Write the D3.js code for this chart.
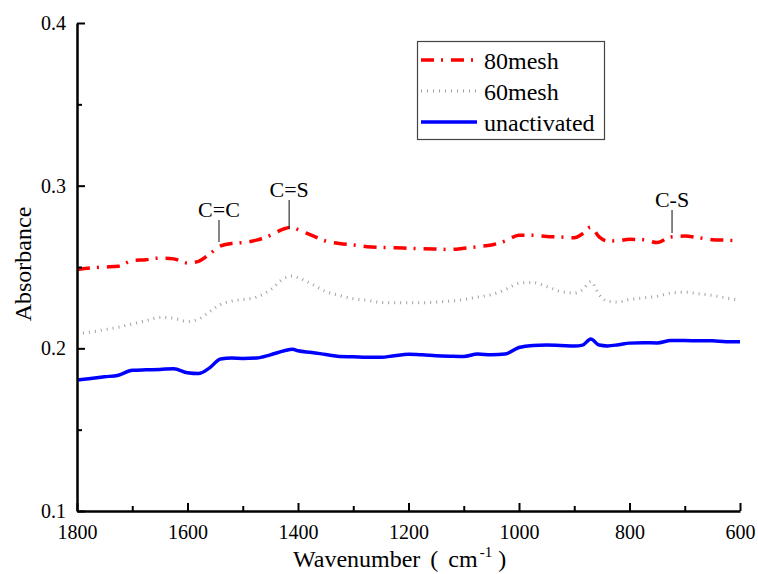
<!DOCTYPE html>
<html>
<head>
<meta charset="utf-8">
<script src="https://cdn.jsdelivr.net/npm/d3@7"></script>
<style>
  svg text, svg tspan { font-family: "Liberation Serif" !important; }
</style>
</head>
<body style="margin:0">
<svg id="chart" width="758" height="574" font-family="Liberation Serif"></svg>
<script>
// ---- data ----
const wavenumbers = [1800,1775,1750,1725,1700,1675,1650,1625,1600,1580,1560,1540,1520,1500,1475,1450,1425,1410,1400,1375,1350,1325,1300,1275,1250,1225,1200,1175,1150,1125,1100,1075,1050,1025,1000,975,950,925,900,885,870,855,840,820,800,775,750,725,700,675,650,625,600];

const mesh80 = [0.2485,0.2495,0.2500,0.2505,0.2540,0.2545,0.2555,0.2550,0.2525,0.2535,0.2580,0.2630,0.2645,0.2650,0.2665,0.2695,0.2735,0.2745,0.2730,0.2695,0.2660,0.2645,0.2635,0.2625,0.2620,0.2618,0.2615,0.2612,0.2610,0.2608,0.2615,0.2625,0.2635,0.2660,0.2695,0.2695,0.2688,0.2684,0.2680,0.2705,0.2745,0.2685,0.2660,0.2662,0.2670,0.2668,0.2650,0.2685,0.2690,0.2680,0.2668,0.2665,0.2660];

const mesh60 = [0.2090,0.2100,0.2115,0.2130,0.2150,0.2170,0.2190,0.2185,0.2165,0.2180,0.2225,0.2270,0.2290,0.2300,0.2315,0.2360,0.2430,0.2445,0.2435,0.2395,0.2350,0.2325,0.2305,0.2295,0.2282,0.2280,0.2280,0.2280,0.2285,0.2290,0.2300,0.2315,0.2330,0.2360,0.2400,0.2405,0.2380,0.2350,0.2340,0.2360,0.2410,0.2330,0.2290,0.2285,0.2300,0.2310,0.2320,0.2340,0.2345,0.2335,0.2325,0.2310,0.2295];

const unactivated = [0.1805,0.1815,0.1825,0.1835,0.1865,0.1868,0.1870,0.1875,0.1850,0.1845,0.1880,0.1935,0.1940,0.1938,0.1940,0.1960,0.1985,0.1995,0.1985,0.1975,0.1962,0.1950,0.1948,0.1945,0.1945,0.1955,0.1963,0.1960,0.1955,0.1952,0.1950,0.1965,0.1960,0.1965,0.2005,0.2018,0.2020,0.2018,0.2014,0.2020,0.2057,0.2020,0.2015,0.2022,0.2032,0.2035,0.2033,0.2048,0.2048,0.2046,0.2046,0.2040,0.2040];

const seriesNames = ["80mesh", "60mesh", "unactivated"];

const xTicks = [1800,1600,1400,1200,1000,800,600];
const xMinorTicks = [1700,1500,1300,1100,900,700];
const yTicks = [0.1,0.2,0.3,0.4];
const yMinorTicks = [0.15,0.25,0.35];

const annLabels = ["C=C", "C=S", "C-S"];
const annWavenumbers = [1543, 1416, 723];
const annTop = [0.2789, 0.2912, 0.2850];
const annBottom = [0.2654, 0.2734, 0.2709];

// ---- layout ----
const SERIF = "Liberation Serif";
const svg = d3.select("#chart");
const L = 77, R = 740, T = 23, B = 511;

const x = d3.scaleLinear().domain([1800, 600]).range([L, R]);
const y = d3.scaleLinear().domain([0.1, 0.4]).range([B, T]);

const styles = [
  {color: "#ff0000", width: 3.5, dash: "13,7,2,8"},
  {color: "#a0a0a0", width: 3, dash: "1,5"},
  {color: "#0000ff", width: 3.5, dash: null}
];
const allSeries = [mesh80, mesh60, unactivated];

function serif(sel, size) {
  return sel.attr("font-family", SERIF)
    .style("font-family", SERIF, "important")
    .attr("font-size", size)
    .attr("fill", "#000");
}

svg.append("defs").append("clipPath").attr("id", "clip")
  .append("rect").attr("x", L).attr("y", T - 5).attr("width", R - L + 2).attr("height", B - T + 5);

const line = d3.line()
  .x(d => x(d[0])).y(d => y(d[1]))
  .curve(d3.curveMonotoneX);

const plot = svg.append("g").attr("clip-path", "url(#clip)");
[2, 1, 0].forEach(i => {
  const pts = wavenumbers.map((w, j) => [w, allSeries[i][j]]);
  const p = plot.append("path")
    .attr("d", line(pts))
    .attr("fill", "none")
    .attr("stroke", styles[i].color)
    .attr("stroke-width", styles[i].width)
    .attr("stroke-linejoin", "round");
  if (styles[i].dash) p.attr("stroke-dasharray", styles[i].dash);
});

// ---- axes ----
const xAxis = svg.append("g").attr("transform", `translate(0,${B})`)
  .call(d3.axisBottom(x).tickValues(xTicks).tickFormat(d3.format("d"))
    .tickSize(-8).tickSizeOuter(0).tickPadding(14));
const xMinor = svg.append("g").attr("transform", `translate(0,${B})`)
  .call(d3.axisBottom(x).tickValues(xMinorTicks).tickFormat("")
    .tickSize(-5).tickSizeOuter(0));
xMinor.select(".domain").remove();

const yAxis = svg.append("g").attr("transform", `translate(${L},0)`)
  .call(d3.axisLeft(y).tickValues(yTicks).tickFormat(d3.format(".1f"))
    .tickSize(-8).tickSizeOuter(0).tickPadding(11));
const yMinor = svg.append("g").attr("transform", `translate(${L},0)`)
  .call(d3.axisLeft(y).tickValues(yMinorTicks).tickFormat("")
    .tickSize(-5).tickSizeOuter(0));
yMinor.select(".domain").remove();

[xAxis, xMinor, yAxis, yMinor].forEach(g => g.attr("font-family", SERIF).attr("font-size", 20));
svg.selectAll(".domain").attr("stroke", "#000").attr("stroke-width", 2.5);
svg.selectAll(".tick line").attr("stroke", "#000").attr("stroke-width", 2);
serif(svg.selectAll(".tick text"), 20);

// axis titles
serif(svg.append("text")
  .attr("transform", `translate(31,${(T + B) / 2 - 3}) rotate(-90)`)
  .attr("text-anchor", "middle"), 24)
  .text("Absorbance");

const xt = serif(svg.append("text").attr("x", 293).attr("y", 567), 24);
xt.append("tspan").text("Wavenumber");
xt.append("tspan").attr("dx", 10).text("(");
xt.append("tspan").attr("dx", 10).text("cm");
xt.append("tspan").attr("dx", 2).attr("dy", -10).attr("font-size", 15).text("-1");
xt.append("tspan").attr("dx", 6).attr("dy", 10).text(")");

// ---- annotations ----
annLabels.forEach((lab, i) => {
  const ax = x(annWavenumbers[i]);
  svg.append("line")
    .attr("x1", ax).attr("x2", ax)
    .attr("y1", y(annTop[i])).attr("y2", y(annBottom[i]))
    .attr("stroke", "#333").attr("stroke-width", 1.2);
  serif(svg.append("text")
    .attr("x", ax).attr("y", y(annTop[i]) - 3)
    .attr("text-anchor", "middle"), 22)
    .text(lab);
});

// ---- legend ----
const lg = svg.append("g");
lg.append("rect")
  .attr("x", 417.5).attr("y", 41.5).attr("width", 187).attr("height", 98)
  .attr("fill", "#fff").attr("stroke", "#444").attr("stroke-width", 1.2);
seriesNames.forEach((name, i) => {
  const ly = 60 + i * 31;
  const l = lg.append("line")
    .attr("x1", 421).attr("x2", 477).attr("y1", ly).attr("y2", ly)
    .attr("stroke", styles[i].color).attr("stroke-width", styles[i].width);
  if (styles[i].dash) l.attr("stroke-dasharray", styles[i].dash);
  serif(lg.append("text").attr("x", 484).attr("y", ly + 9), 24).text(name);
});
</script>
</body>
</html>
